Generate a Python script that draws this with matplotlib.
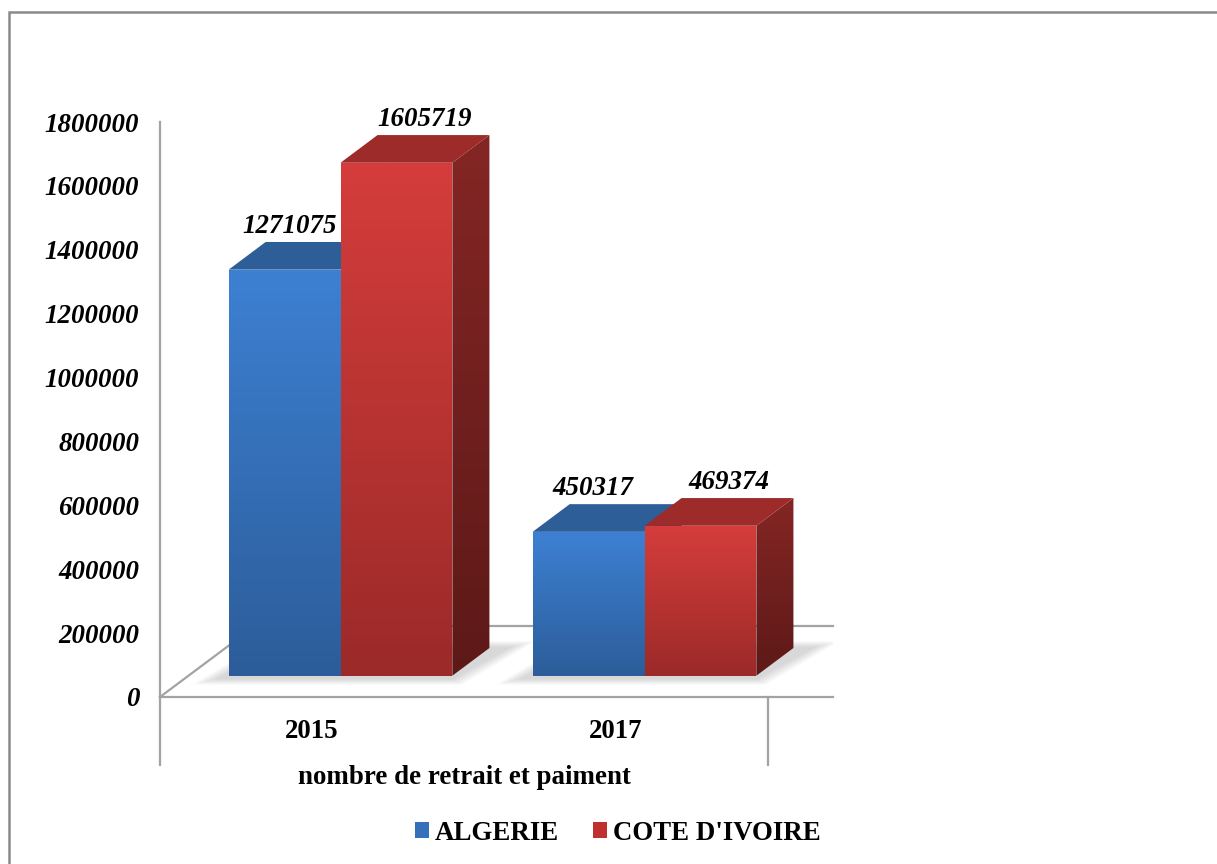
import numpy as np
import matplotlib
matplotlib.use("Agg")
import matplotlib.pyplot as plt
from matplotlib.patches import Polygon, Patch, Rectangle
from matplotlib.colors import to_rgb

# nombre de retrait et paiment, par pays
categories = ['2015', '2017']
series = ['ALGERIE', "COTE D'IVOIRE"]
algerie = [1271075, 450317]
cote_ivoire = [1605719, 469374]
yticks = [0, 200000, 400000, 600000, 800000, 1000000, 1200000, 1400000, 1600000, 1800000]

plt.rcParams['font.family'] = ['Liberation Serif', 'DejaVu Serif']
fs = 19.4

W, H = 1217, 864
fig = plt.figure(figsize=(W / 100, H / 100), dpi=100)
xmax = 2.215
ax = fig.add_axes([160 / W, (H - 697) / H, 304 * xmax / W, 575 / H])
ymax = 1800000

# fake 3d: oblique projection of the floor depth
ddx = 95 / 304
ddy = 71 / 575 * ymax
zf, zb = 0.30, 0.69
bw = 0.368


def proj(x, v, z):
    return (x + z * ddx, v + z * ddy)


def grad_fill(verts, c_top, c_bot, zorder):
    poly = Polygon(verts, closed=True, facecolor='none', edgecolor='none', zorder=zorder)
    ax.add_patch(poly)
    xs = [p[0] for p in verts]
    ys = [p[1] for p in verts]
    t = np.linspace(0, 1, 64)[:, None]
    top, bot = np.array(to_rgb(c_top)), np.array(to_rgb(c_bot))
    img = (bot * (1 - t) + top * t)[:, None, :]
    im = ax.imshow(img, extent=(min(xs), max(xs), min(ys), max(ys)), origin='lower',
                   aspect='auto', interpolation='bilinear', zorder=zorder)
    im.set_clip_path(poly)


def bar3d(x0, v, front, side, top, zorder):
    x1 = x0 + bw
    grad_fill([proj(x0, 0, zf), proj(x1, 0, zf), proj(x1, v, zf), proj(x0, v, zf)],
              front[0], front[1], zorder)
    grad_fill([proj(x1, 0, zf), proj(x1, 0, zb), proj(x1, v, zb), proj(x1, v, zf)],
              side[0], side[1], zorder)
    ax.add_patch(Polygon([proj(x0, v, zf), proj(x1, v, zf), proj(x1, v, zb), proj(x0, v, zb)],
                         closed=True, facecolor=top, edgecolor='none', zorder=zorder))


blue = (('#3d80d2', '#2c5d9a'), ('#254f84', '#1d3f6a'), '#2d5e98')
red = (('#d43d3b', '#9b2a29'), ('#842624', '#5d1918'), '#9c2b29')
label_z = [zf + 0.05, zf + 0.30]

# floor
gc = '#a3a3a3'
ax.plot([0, xmax], [0, 0], color=gc, lw=1.6, clip_on=False, zorder=1)
bx, by = proj(0, 0, 1)
ax.plot([bx, xmax], [by, by], color=gc, lw=1.6, clip_on=False, zorder=1)
ax.plot([0, bx], [0, by], color=gc, lw=1.6, clip_on=False, zorder=1)

for i, cat in enumerate(categories):
    xc = i + 0.5
    xl, xr = xc - bw, xc + bw
    # soft shadow on the floor
    for k in range(6):
        e = 0.01 * k
        ez = 0.015 * k
        sh = [proj(xl - 0.03 - e, 0, zf - 0.05 - ez), proj(xr + 0.02 + e, 0, zf - 0.05 - ez),
              proj(xr + 0.07 + e, 0, zb + 0.02 + ez), proj(xl + 0.02 - e, 0, zb + 0.02 + ez)]
        ax.add_patch(Polygon(sh, closed=True, facecolor='#555555', alpha=0.04,
                             edgecolor='none', zorder=2))
    for j, (vals, col) in enumerate([(algerie, blue), (cote_ivoire, red)]):
        x0 = xc - bw + j * bw
        v = vals[i]
        bar3d(x0, v, col[0], col[1], col[2], zorder=3 + j + 2 * i)
        lx = proj(x0 + bw / 2, v, label_z[j])[0]
        ly = proj(x0 + bw / 2, v, zb)[1]
        ax.annotate(f'{v}', xy=(lx, ly), xytext=(0, 6.5),
                    textcoords='offset points', ha='center', va='baseline',
                    fontsize=fs, fontweight='bold', fontstyle='italic', zorder=10)

ax.set_xlim(0, xmax)
ax.set_ylim(0, ymax)
ax.set_yticks(yticks)
ax.set_yticklabels([str(t) for t in yticks], fontsize=fs, fontweight='bold', fontstyle='italic')
ax.set_xticks([0.5, 1.5])
ax.set_xticklabels(categories, fontsize=fs, fontweight='bold')
ax.tick_params(axis='y', length=0, pad=15)
ax.tick_params(axis='x', length=0, pad=16)
for s in ['top', 'right', 'bottom']:
    ax.spines[s].set_visible(False)
ax.spines['left'].set_color(gc)
ax.spines['left'].set_linewidth(1.6)
ax.patch.set_visible(False)

# category group separators below the axis
tr = ax.get_xaxis_transform()
for xs in [0, 2]:
    ax.plot([xs, xs], [0, -68 / 575], color=gc, lw=1.6, transform=tr, clip_on=False)

fig.text(464 / W, 1 - 784 / H, 'nombre de retrait et paiment', ha='center', va='baseline',
         fontsize=fs, fontweight='bold')

handles = [Patch(facecolor='#3570bb', edgecolor='none'), Patch(facecolor='#c0302f', edgecolor='none')]
fig.legend(handles, series, loc='center', bbox_to_anchor=(618 / W, 1 - 833 / H), ncol=2,
           frameon=False, prop={'size': fs, 'weight': 'bold'}, handlelength=0.52,
           handleheight=0.52, handletextpad=0.22, columnspacing=1.27)

# chart frame
fig.patches.append(Rectangle((9 / W, -0.05), 1.1, 1 - 12 / H + 0.05, transform=fig.transFigure,
                             facecolor='none', edgecolor='#8a8a8a', lw=1.8))

fig.savefig('out.png', dpi=100, facecolor='white')
